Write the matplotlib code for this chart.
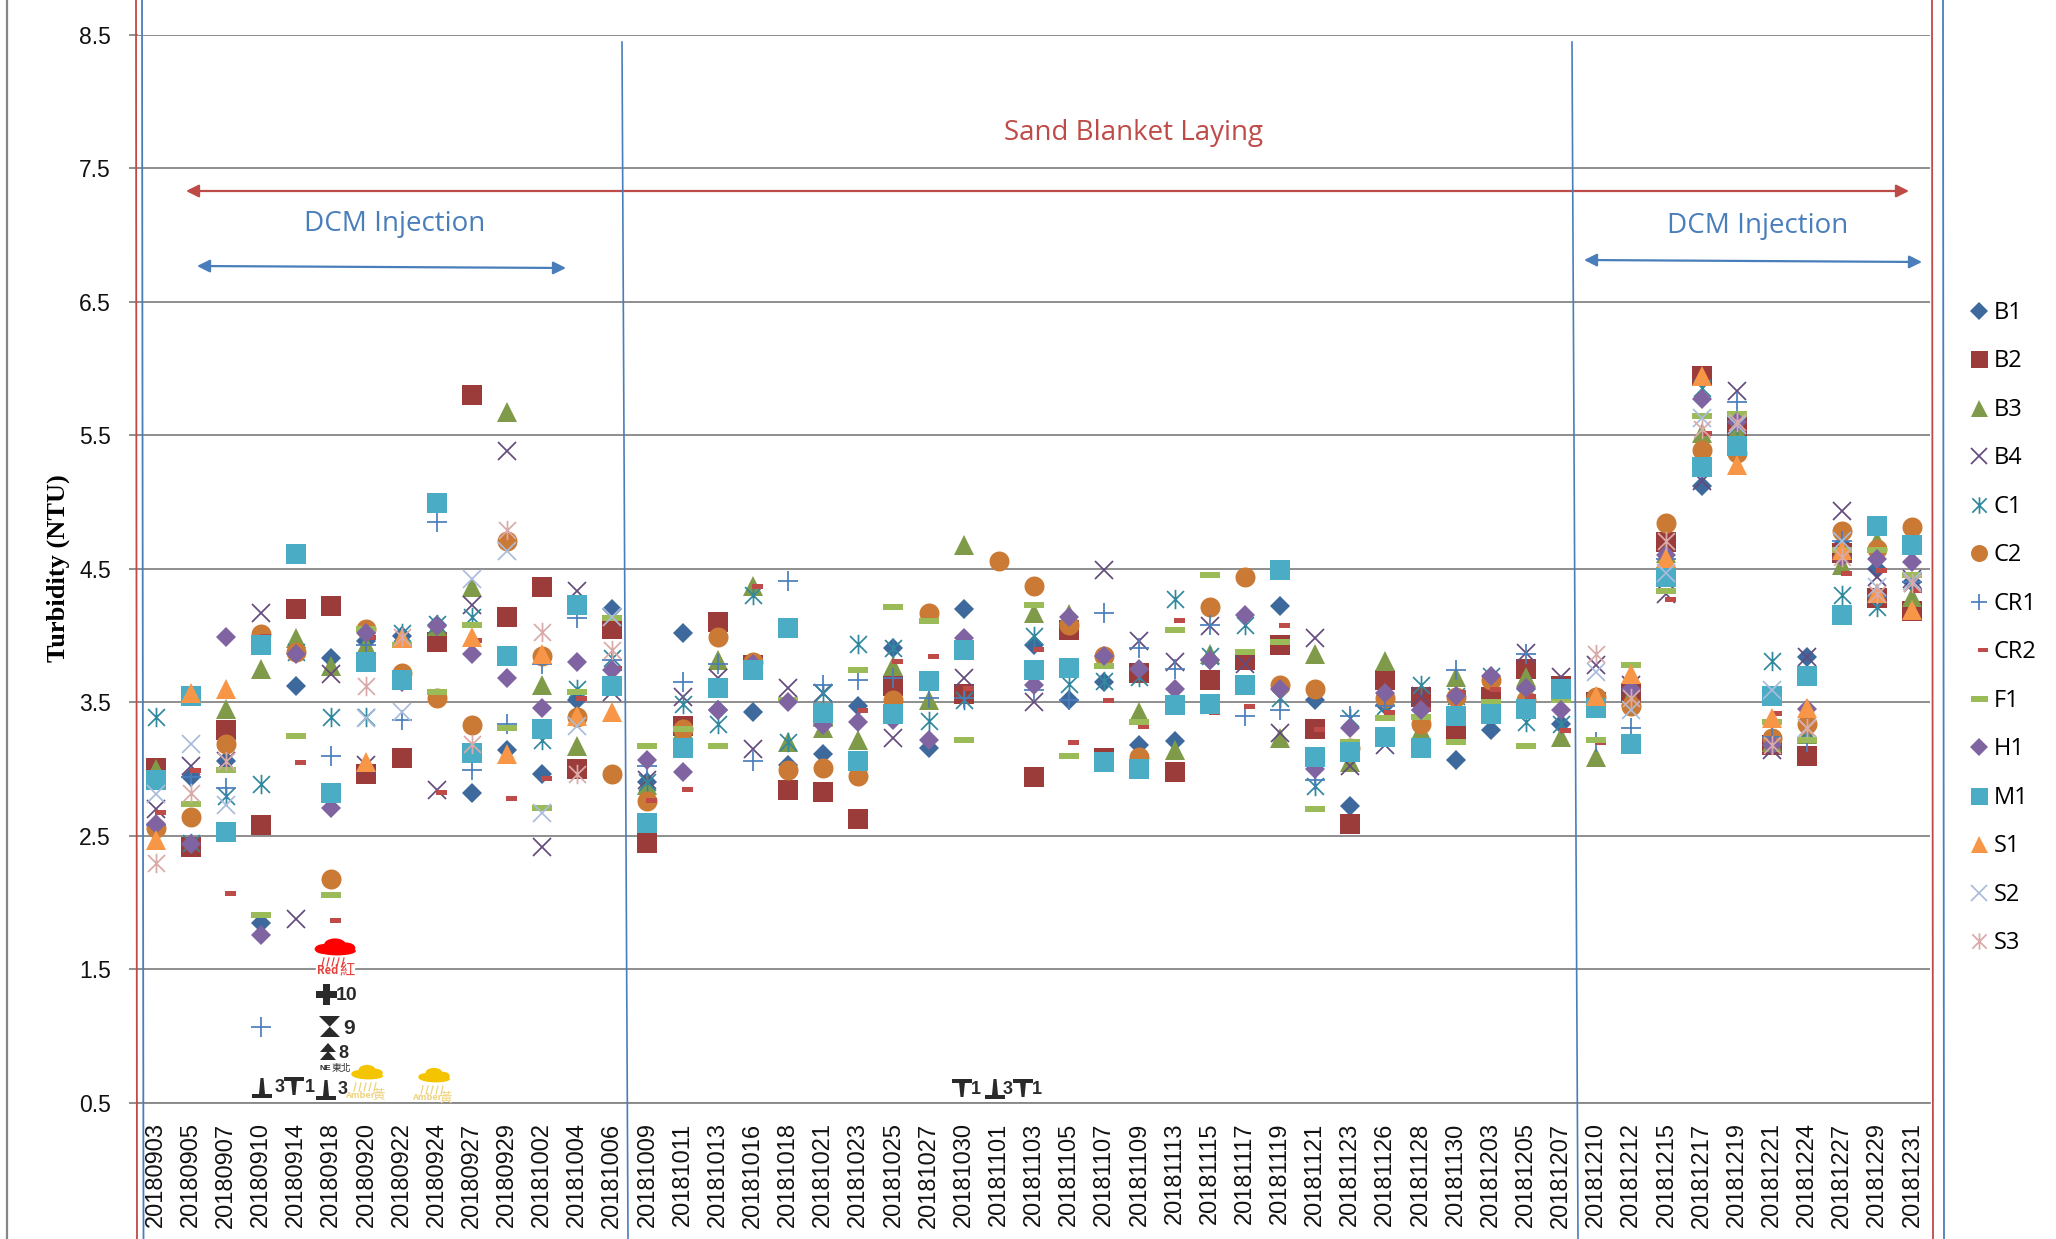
import numpy as np
import matplotlib
matplotlib.use("Agg")
import matplotlib.pyplot as plt
from matplotlib.path import Path
from matplotlib.patches import Ellipse, Polygon, FancyArrowPatch, Rectangle

W, H = 2056, 1239
na = np.nan

dates = ["20180903", "20180905", "20180907", "20180910", "20180914", "20180918", "20180920", "20180922",
         "20180924", "20180927", "20180929", "20181002", "20181004", "20181006", "20181009", "20181011",
         "20181013", "20181016", "20181018", "20181021", "20181023", "20181025", "20181027", "20181030",
         "20181101", "20181103", "20181105", "20181107", "20181109", "20181113", "20181115", "20181117",
         "20181119", "20181121", "20181123", "20181126", "20181128", "20181130", "20181203", "20181205",
         "20181207", "20181210", "20181212", "20181215", "20181217", "20181219", "20181221", "20181224",
         "20181227", "20181229", "20181231"]

b1 = [2.92, 2.94, 3.06, 1.85, 3.62, 3.83, 3.96, 4.00, 4.08, 2.82, 3.14, 2.96, 3.52, 4.20, 2.90, 4.02, 3.44,
      3.43, 3.03, 3.11, 3.47, 3.91, 3.16, 4.20, na, 3.93, 3.52, 3.65, 3.18, 3.21, 3.82, 3.82, 4.22, 3.52,
      2.72, 3.48, 3.44, 3.07, 3.29, 3.60, 3.34, 3.50, 3.55, 4.50, 5.12, 5.55, 3.20, 3.84, 4.68, 4.50, 4.40]
b2 = [3.01, 2.42, 3.29, 2.58, 4.20, 4.22, 2.96, 3.08, 3.95, 5.80, 4.14, 4.36, 3.00, 4.05, 2.45, 3.32, 4.10,
      3.78, 2.84, 2.83, 2.63, 3.62, na, 3.56, na, 2.94, 4.04, 3.08, 3.72, 2.98, 3.67, 3.82, 3.93, 3.30,
      2.59, 3.67, 3.54, 3.27, 3.54, 3.75, 3.62, 3.50, 3.57, 4.70, 5.94, 5.56, 3.18, 3.10, 4.62, 4.28, 4.18]
b3 = [3.00, na, 3.45, 3.75, 3.98, 3.77, 3.93, 3.98, 4.07, 4.36, 5.67, 3.63, 3.17, na, 2.88, 3.30, 3.82,
      4.37, 3.20, 3.31, 3.22, 3.77, 3.52, 4.68, na, 4.17, 4.16, na, 3.43, 3.14, 3.86, na, 3.23, 3.86,
      3.05, 3.81, 3.29, 3.69, na, 3.69, 3.24, 3.09, 3.55, 4.62, 5.52, 5.54, 3.20, 3.26, 4.53, 4.71, 4.29]
b4 = [2.70, 3.02, 3.06, 4.17, 1.88, 3.71, 3.03, na, 2.84, 4.23, 5.38, 2.42, 4.33, 3.58, 2.92, 3.54, 3.68,
      3.15, 3.61, 3.57, na, 3.23, na, 3.68, na, 3.50, na, 4.49, 3.96, 3.80, 4.07, 3.79, 3.27, 3.98,
      3.02, 3.18, 3.55, na, na, 3.87, 3.69, 3.78, 3.63, 4.31, 5.16, 5.83, 3.14, 3.84, 4.93, 4.44, 4.42]
c1 = [3.39, 2.45, 2.80, 2.89, 3.88, 3.39, 3.39, 4.02, 4.09, 4.14, na, 3.22, 3.60, 3.83, 2.90, 3.49, 3.34,
      4.30, 3.20, 3.57, 3.94, 3.91, 3.36, 3.52, na, 4.00, 3.64, 3.66, 3.69, 4.27, 3.85, 4.08, 3.53, 2.87,
      3.38, 3.47, 3.63, 3.55, 3.70, 3.35, 3.34, na, 3.53, 4.47, 5.85, 5.58, 3.81, 3.28, 4.30, 4.21, 4.39]
c2 = [2.56, 2.64, 3.19, 4.01, 3.88, 2.18, 4.05, 3.72, 3.53, 3.33, 4.71, 3.85, 3.39, 2.96, 2.76, 3.30, 3.99,
      3.80, 2.99, 3.01, 2.95, 3.52, 4.17, na, 4.56, 4.37, 4.08, 3.85, 3.09, na, 4.21, 4.44, 3.63, 3.60,
      3.16, 3.53, 3.34, 3.54, 3.67, 3.52, na, 3.54, 3.47, 4.84, 5.39, 5.37, 3.23, 3.34, 4.78, 4.65, 4.81]
cr1 = [2.58, 2.94, 2.86, 1.07, na, 3.10, 3.93, 3.37, 4.85, 2.99, 3.34, 3.79, 4.13, 3.82, 3.02, 3.65, 3.79,
       3.06, 4.41, 3.63, 3.67, 3.68, 3.53, 3.53, na, 3.59, 3.52, 4.17, 3.91, 3.75, 4.08, 3.40, 3.44, 2.92,
       3.40, 3.47, na, 3.74, na, 3.86, na, 3.20, 3.31, 4.57, na, 5.75, 3.24, 3.20, 4.71, 4.29, 4.40]
cr2 = [2.68, 2.99, 2.07, 4.00, 3.05, 1.87, 3.99, na, 2.83, 3.97, 2.78, 2.93, 3.53, 3.76, 2.77, 2.85, na,
       4.37, na, na, 3.44, 3.81, 3.85, 3.61, na, 3.90, 3.20, 3.52, 3.32, 4.12, 3.43, 3.47, 4.08, 3.30,
       na, 3.43, 3.45, 3.58, 3.60, 3.55, 3.29, 3.20, na, 4.27, 5.52, na, 3.42, na, 4.47, 4.49, 4.34]
f1 = [na, 2.74, 2.99, 1.91, 3.25, 2.06, 4.05, 3.93, 3.58, 4.08, 3.31, 2.71, 3.58, 4.13, 3.17, 3.30, 3.17,
      na, 3.52, 3.34, 3.74, 4.21, 4.11, 3.22, na, 4.23, 3.10, 3.77, 3.35, 4.04, 4.45, 3.88, 3.95, 2.70,
      3.20, 3.38, 3.39, 3.20, 3.50, 3.17, 3.52, 3.22, 3.78, 4.33, 5.64, 5.66, 3.35, 3.22, 4.64, 4.64, 4.45]
h1 = [2.59, 2.44, 3.99, 1.76, 3.86, 2.71, 4.02, 3.65, 4.07, 3.86, 3.68, 3.46, 3.80, 3.74, 3.07, 2.98, 3.44,
      3.79, 3.50, 3.33, 3.35, 3.37, 3.22, 3.98, na, 3.63, 4.14, 3.85, 3.75, 3.60, 3.82, 4.15, 3.60, 3.00,
      3.31, 3.57, 3.44, 3.55, 3.70, 3.61, 3.44, na, 3.60, 4.60, 5.77, 5.60, 3.18, 3.45, 4.59, 4.57, 4.55]
m1 = [2.92, 3.55, 2.53, 3.93, 4.61, 2.82, 3.80, 3.67, 4.99, 3.12, 3.85, 3.30, 4.23, 3.62, 2.60, 3.16, 3.61,
      3.74, 4.06, 3.42, 3.06, 3.41, 3.66, 3.89, na, 3.74, 3.76, 3.05, 3.00, 3.48, 3.49, 3.63, 4.49, 3.09,
      3.13, 3.24, 3.16, 3.40, 3.41, 3.45, 3.60, 3.46, 3.19, 4.44, 5.26, 5.42, 3.55, 3.70, 4.15, 4.82, 4.68]
s1 = [2.47, 3.57, 3.60, na, na, na, 3.05, 3.98, na, 3.99, 3.11, 3.86, 3.40, 3.43, na, na, na,
      na, na, na, na, na, na, na, na, na, na, na, na, na, na, na, na, na,
      na, na, na, na, na, na, na, 3.55, 3.71, 4.58, 5.94, 5.28, 3.38, 3.46, 4.64, 4.32, 4.19]
s2 = [2.81, 3.19, 2.73, na, na, na, 3.38, 3.43, na, 4.42, 4.63, 2.67, 3.32, 4.14, na, na, na,
      na, na, na, na, na, na, na, na, na, na, na, na, na, na, na, na, na,
      na, na, na, na, na, na, na, 3.73, 3.44, 4.47, 5.63, 5.58, 3.59, 3.31, 4.71, 4.36, 4.41]
s3 = [2.30, 2.82, 3.06, na, na, na, 3.62, 3.99, na, 3.19, 4.79, 4.03, 2.96, 3.89, na, na, na,
      na, na, na, na, na, na, na, na, na, na, na, na, na, na, na, na, na,
      na, na, na, na, na, na, na, 3.86, 3.53, 4.71, 5.55, 5.60, 3.18, 3.31, 4.59, 4.31, 4.39]

y_ticks = [0.5, 1.5, 2.5, 3.5, 4.5, 5.5, 6.5, 7.5, 8.5]

# excel style markers that matplotlib does not have
star = Path([(-1, -1), (1, 1), (-1, 1), (1, -1), (0, -1.15), (0, 1.15)],
            [Path.MOVETO, Path.LINETO, Path.MOVETO, Path.LINETO, Path.MOVETO, Path.LINETO])
long_dash = Path([(-10, -3), (10, -3), (10, 3), (-10, 3), (-10, -3)], closed=True)
short_dash = Path([(-1, -2.5), (10, -2.5), (10, 2.5), (-1, 2.5), (-1, -2.5)], closed=True)

GRID = "#868686"
BLUE = "#4a7ebb"
RED = "#be4b48"
DARK = "#2a2a2a"

# name, values, marker, size, colour, line marker or not
series = [
    ("B1", b1, "D", 10.2, "#3d699d", False),
    ("B2", b2, "s", 14.4, "#9b3c3a", False),
    ("B3", b3, "^", 14.4, "#7f9a48", False),
    ("B4", b4, "x", 13.4, "#644a7d", True),
    ("C1", c1, star, 14.0, "#31899f", True),
    ("C2", c2, "o", 14.4, "#cb7a35", False),
    ("CR1", cr1, "+", 14.0, BLUE, True),
    ("CR2", cr2, short_dash, 14.4, RED, False),
    ("F1", f1, long_dash, 14.4, "#9bbb59", False),
    ("H1", h1, "D", 10.2, "#8064a2", False),
    ("M1", m1, "s", 14.4, "#4bacc6", False),
    ("S1", s1, "^", 14.4, "#f79646", False),
    ("S2", s2, "x", 13.4, "#a9bcdb", True),
    ("S3", s3, star, 14.0, "#d9aaa8", True),
]

fig = plt.figure(figsize=(W / 100, H / 100), dpi=100, facecolor="white")
ax = fig.add_axes([138 / W, 1 - 1103 / H, (1930 - 138) / W, (1103 - 34.5) / H])

x = np.arange(len(dates))
for name, values, marker, size, color, is_line in series:
    if is_line:
        ax.plot(x, values, ls="none", marker=marker, ms=size, mfc="none", mec=color, mew=1.25,
                label=name, zorder=3, clip_on=False)
    else:
        ax.plot(x, values, ls="none", marker=marker, ms=size, mfc=color, mec=color, mew=0,
                label=name, zorder=3, clip_on=False)

ax.set_xlim(-0.5, len(dates) - 0.5)
ax.set_ylim(0.5, 8.5)
ax.set_yticks(y_ticks)
ax.set_yticklabels([str(v) for v in y_ticks], family="Liberation Sans", fontsize=16.5, color="#111111")
ax.set_xticks(x)
ax.set_xticklabels(dates, rotation=90, family="Liberation Sans", fontsize=17, color="#111111")
ax.tick_params(axis="x", length=0, pad=14)
ax.tick_params(axis="y", length=6.5, width=1.3, color=GRID, pad=13)
ax.grid(axis="y", color=GRID, lw=1.3, zorder=1)
ax.set_axisbelow(True)
for side in ["top", "left", "right"]:
    ax.spines[side].set_visible(False)
ax.spines["bottom"].set_color(GRID)
ax.spines["bottom"].set_linewidth(1.3)
ax.patch.set_alpha(0)

fig.text(58 / W, 1 - 568 / H, "Turbidity (NTU)", rotation=90, ha="center", va="center",
         family="Liberation Serif", weight="bold", fontsize=19)

handles, labels = ax.get_legend_handles_labels()
fig.legend(handles, labels, loc="upper left", bbox_to_anchor=(1967 / W, 1 - 301 / H), frameon=False,
           numpoints=1, markerscale=0.85, handlelength=1.0, handletextpad=0.13, labelspacing=1.037,
           borderpad=0, borderaxespad=0, prop={"family": "Open Sans", "size": 17})

# everything pasted over the chart, in picture pixels
top = fig.add_axes([0, 0, 1, 1], zorder=5)
top.set_xlim(0, W)
top.set_ylim(H, 0)
top.axis("off")

top.plot([7, 7], [0, H], color=GRID, lw=1.6)
top.plot([136, 137], [0, H], color=RED, lw=1.3)
top.plot([142, 143.5], [0, H], color=BLUE, lw=1.3)
top.plot([622, 628], [42, H], color=BLUE, lw=1.2)
top.plot([1572, 1578], [42, H], color=BLUE, lw=1.2)
top.plot([1932, 1933], [0, H], color=RED, lw=1.3)
top.plot([1943, 1944], [0, H], color=BLUE, lw=1.3)


def arrow(x0, y0, x1, y1, color):
    top.add_patch(FancyArrowPatch((x0, y0), (x1, y1), arrowstyle="<|-|>", mutation_scale=19,
                                  color=color, lw=1.6, shrinkA=0, shrinkB=0))


arrow(186, 191, 1909, 191, RED)
arrow(197, 266, 566, 268, BLUE)
arrow(1584, 260, 1922, 262, BLUE)

for tx, ty, txt, col in [(1133, 133, "Sand Blanket Laying", RED), (395, 224, "DCM Injection", BLUE),
                         (1758, 226, "DCM Injection", BLUE)]:
    top.text(tx, ty, txt, color=col, ha="center", va="center", family="Open Sans", fontsize=20)

cjk = ["Noto Sans CJK TC", "DejaVu Sans"]


def bars(cx, cy, flip):
    # the T and upside down T wind marks, heavy bar and thick stem
    bar_y = cy + 7 if flip else cy - 9
    top.add_patch(Rectangle((cx - 10, bar_y), 20, 3.5, color=DARK, lw=0))
    top.add_patch(Polygon([(cx - 3, bar_y + (0 if flip else 3)), (cx + 3, bar_y + (0 if flip else 3)),
                           (cx + 1.5, cy + (-9 if flip else 9)), (cx - 1.5, cy + (-9 if flip else 9))],
                          closed=True, color=DARK, lw=0))


def wind(sx, nx, y, flip, num):
    bars(sx, y, flip)
    top.text(nx, y + 1, num, ha="center", va="center", family="Liberation Sans", weight="bold",
             fontsize=13, color=DARK)


def cloud(cx, cy, color, rain, label, box, scale):
    if box:
        top.add_patch(Rectangle((cx - 19, cy - 10), 38, 40, color="white", zorder=2))
    for dx, dy, w, h in [(-10, 2, 17, 9), (0, -2, 20, 12), (10, 1, 17, 10), (2, 4, 34, 8)]:
        top.add_patch(Ellipse((cx + dx * scale, cy + dy), w * scale, h * scale, color=color, lw=0, zorder=3))
    for dx in [-11, -6, -1, 4, 9]:
        top.plot([cx + dx, cx + dx - 2], [cy + 11, cy + 19], color=rain, lw=0.9, zorder=3)
    top.text(cx - 7, cy + 23, label[0], color=rain, ha="center", va="center", family=cjk,
             weight="bold", fontsize=8 if box else 6.5, zorder=3)
    top.text(cx + 12, cy + 23, label[1], color=rain, ha="center", va="center", family=cjk,
             fontsize=11 if box else 9, zorder=3)


cloud(335, 947, "#ff0000", "#e8413c", ("Red", "紅"), True, 1.1)
cloud(367, 1072, "#f5c400", "#efd27a", ("Amber", "黃"), False, 0.85)
cloud(434, 1075, "#f5c400", "#efd27a", ("Amber", "黃"), False, 0.85)

top.add_patch(Rectangle((316, 991), 21, 7, color=DARK, lw=0))
top.add_patch(Rectangle((323, 984), 7, 21, color=DARK, lw=0))
top.text(347, 995, "10", ha="center", va="center", family="Liberation Sans", weight="bold", fontsize=14, color=DARK)
top.add_patch(Polygon([(319, 1016), (340, 1016), (320, 1037), (340, 1037)], closed=True, color=DARK, lw=0))
top.text(349, 1028, "9", ha="center", va="center", family="Liberation Sans", weight="bold", fontsize=15, color=DARK)
top.add_patch(Polygon([(328, 1043), (336, 1052), (320, 1052)], closed=True, color=DARK, lw=0))
top.add_patch(Polygon([(328, 1051), (336, 1060), (320, 1060)], closed=True, color=DARK, lw=0))
top.text(343, 1054, "8", ha="center", va="center", family="Liberation Sans", weight="bold", fontsize=13, color=DARK)
top.text(325, 1069, "NE", ha="center", va="center", family="Liberation Sans", weight="bold", fontsize=6, color=DARK)
top.text(341, 1068, "東北", ha="center", va="center", family=cjk, fontsize=7, color=DARK)

for sx, nx, sy, flip, num in [(262, 280, 1087, True, "3"), (294, 310, 1086, False, "1"), (326, 343, 1089, True, "3"),
                              (962, 976, 1088, False, "1"), (995, 1008, 1088, True, "3"), (1023, 1037, 1088, False, "1")]:
    wind(sx, nx, sy, flip, num)

fig.savefig("out.png", dpi=100, facecolor="white")
